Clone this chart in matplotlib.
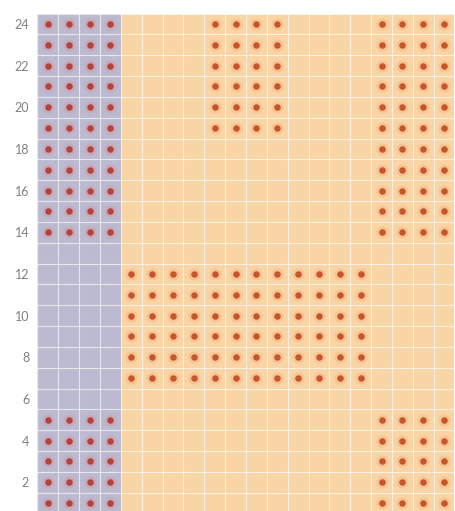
import matplotlib
matplotlib.use("Agg")
import matplotlib.pyplot as plt
import numpy as np

N_COLS = 20
N_ROWS = 24
# columns belonging to the lavender zone, rest is orange
BLUE_COLS = [0, 1, 2, 3]
# dotted blocks: (first col, last col, first row, last row)
DOT_BLOCKS = [
    (0, 3, 14, 24),
    (0, 3, 1, 5),
    (8, 11, 19, 24),
    (16, 19, 14, 24),
    (4, 15, 7, 12),
    (16, 19, 1, 5),
]
Y_TICKS = [2, 4, 6, 8, 10, 12, 14, 16, 18, 20, 22, 24]

BLUE = "#bbbad0"
ORANGE = "#f9d4a4"

fig = plt.figure(figsize=(4.56, 5.11), dpi=100)
ax = fig.add_axes([0.0822, -0.0049, 0.9145, 0.9783])

# background cells
for c in range(N_COLS):
    color = BLUE if c in BLUE_COLS else ORANGE
    ax.axvspan(c - 0.5, c + 0.5, color=color, lw=0, zorder=0)

# white grid between cells
for c in range(N_COLS + 1):
    ax.axvline(c - 0.5, color="white", lw=0.8, alpha=0.65, zorder=1)
for r in range(N_ROWS + 1):
    ax.axhline(r + 0.5, color="white", lw=0.8, alpha=0.65, zorder=1)

# dots
for c0, c1, r0, r1 in DOT_BLOCKS:
    xs, ys = np.meshgrid(np.arange(c0, c1 + 1), np.arange(r0, r1 + 1))
    xs, ys = xs.ravel(), ys.ravel()
    in_blue = c1 <= max(BLUE_COLS)
    halo = "#e08a8a" if in_blue else "#f5a070"
    core = "#b4433e" if in_blue else "#c7552c"
    ax.scatter(xs, ys, s=75, color=halo, alpha=0.3, lw=0, zorder=2)
    ax.scatter(xs, ys, s=22, color=core, lw=0, zorder=3)

ax.set_xlim(-0.5, N_COLS - 0.5)
ax.set_ylim(0.5, N_ROWS + 0.5)
ax.set_xticks([])
ax.set_yticks(Y_TICKS)
ax.set_yticklabels([str(v) for v in Y_TICKS], fontsize=9, color="#808080", family="Lato")
ax.tick_params(axis="y", length=0, pad=6)
for s in ax.spines.values():
    s.set_visible(False)

fig.savefig("out.png", dpi=100)
